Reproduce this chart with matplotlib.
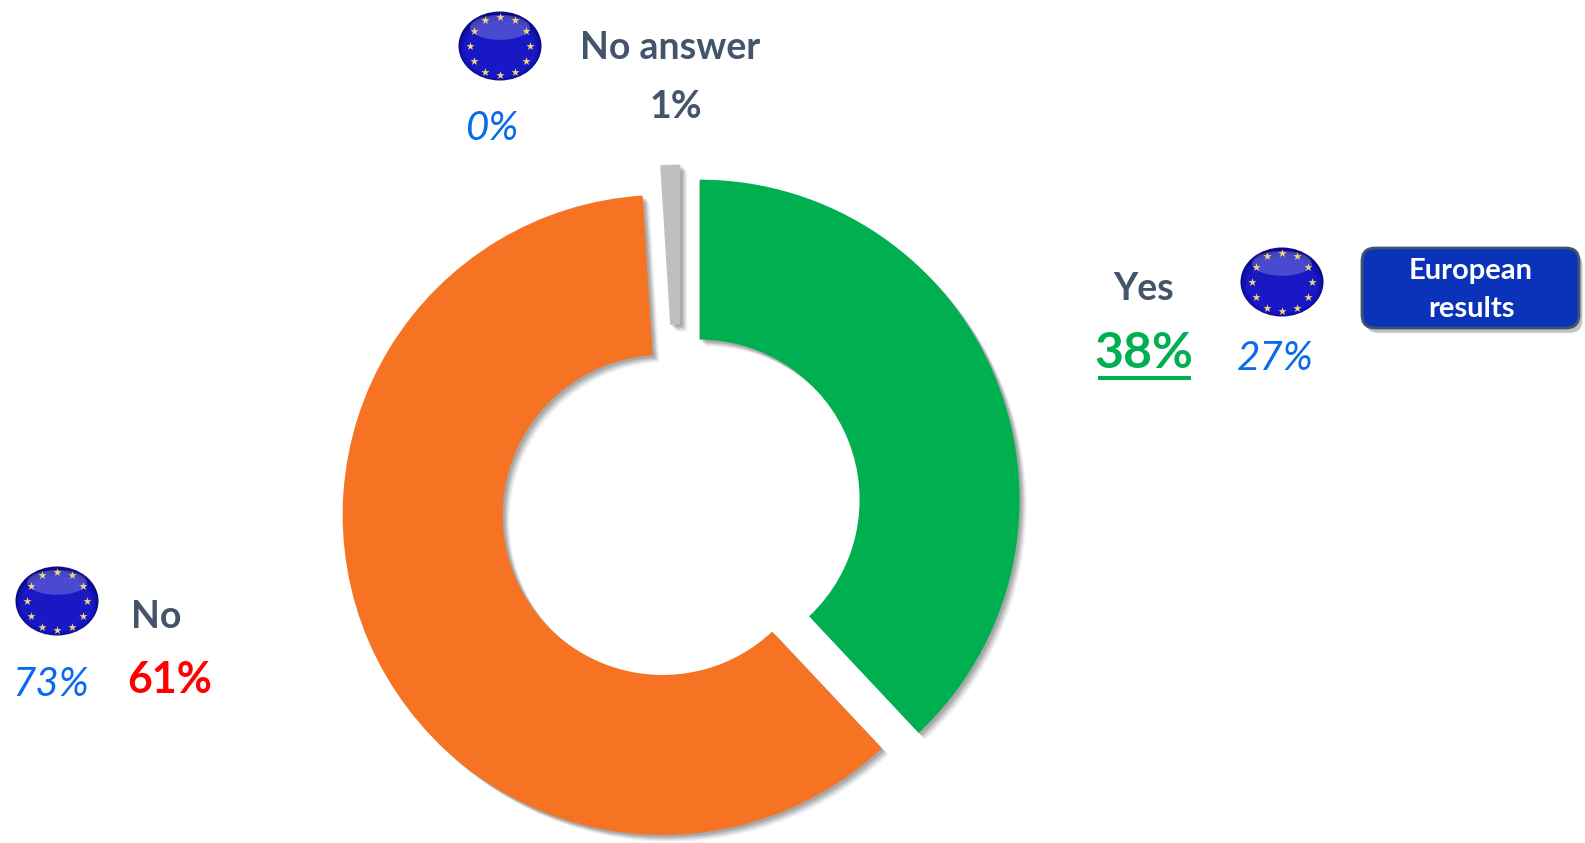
import numpy as np
import matplotlib
matplotlib.use("Agg")
import matplotlib.pyplot as plt
from matplotlib.patches import Ellipse, FancyBboxPatch
import matplotlib.patheffects as pe

W, H = 1585, 843
categories = ["Yes", "No", "No answer"]
values = [38, 61, 1]
eu_values = ["27%", "73%", "0%"]
value_labels = ["38%", "61%", "1%"]
colors = ["#00B050", "#F57322", "#BFBFBF"]
explode = [0.0625, 0.0625, 0.07]

FONT = "Lato"
GREY = "#44546A"
BLUE = "#0A6AEA"

fig = plt.figure(figsize=(W / 100, H / 100), dpi=100, facecolor="white")

# Donut axes: one data unit = 320 px
cx, cy, R = 681.0, 507.0, 320.0
ax = fig.add_axes([0, 0, 1, 1])
wedges, _ = ax.pie(values, colors=colors, explode=explode, startangle=90,
                   counterclock=False, radius=1.0,
                   wedgeprops=dict(width=0.5, linewidth=0))
ax.set_xlim(-cx / R, (W - cx) / R)
ax.set_ylim(-(H - cy) / R, cy / R)
ax.set_aspect("auto")
ax.axis("off")

shadow = []
for off, alpha in [(7, 0.05), (6, 0.07), (5, 0.09), (4, 0.10), (3, 0.12), (2, 0.12)]:
    shadow.append(pe.SimplePatchShadow(offset=(off * 0.72, -off * 0.72),
                                       shadow_rgbFace="#404040", alpha=alpha))
for w in wedges:
    w.set_path_effects(shadow + [pe.Normal()])

# Overlay axes in pixel coordinates
ov = fig.add_axes([0, 0, 1, 1], facecolor="none")
ov.set_xlim(0, W)
ov.set_ylim(H, 0)
ov.axis("off")


def flag(x, y, w=83, h=69):
    ov.add_patch(Ellipse((x, y), w, h, fc="#0A0A8C", ec="none", zorder=3))
    for k, (col, a) in enumerate([("#1212B0", 1.0), ("#1818C4", 1.0)]):
        ov.add_patch(Ellipse((x, y + 2 + k), w * (0.96 - k * 0.08), h * (0.92 - k * 0.1),
                             fc=col, ec="none", alpha=a, zorder=3))
    ov.add_patch(Ellipse((x, y - h * 0.27), w * 0.72, h * 0.36, fc="#FFFFFF", ec="none",
                         alpha=0.22, zorder=3.2))
    ang = np.deg2rad(np.arange(0, 360, 30))
    ov.scatter(x + 0.62 * w / 2 * 1.22 * np.cos(ang) * 0.95,
               y + 0.62 * h / 2 * 1.45 * np.sin(ang) * 0.95 - 0,
               marker="*", s=38, c="#F2D77A", linewidths=0, zorder=4)


flag(500, 46)
flag(1282, 282)
flag(57, 601)


def label(x, y, s, color=GREY, size=27, weight="bold", style="normal"):
    ov.text(x, y, s, color=color, fontsize=size, fontweight=weight, fontstyle=style,
            family=FONT, ha="center", va="center", zorder=6)


label(670, 48, categories[2])
label(676, 107, value_labels[2])
label(493, 129, eu_values[2], color=BLUE, weight="normal", style="italic", size=29)

label(1144, 289, categories[0])
label(1144, 354, value_labels[0], color=colors[0], size=36)
ov.plot([1098, 1191], [378, 378], color=colors[0], lw=2.9, solid_capstyle="butt", zorder=6)
label(1275, 358, eu_values[0], color=BLUE, weight="normal", style="italic", size=29)

label(156, 617, categories[1])
label(170, 680, value_labels[1], color="#FF0000", size=31)
label(51, 685, eu_values[1], color=BLUE, weight="normal", style="italic", size=29)

# Button
btn_shadow = [pe.SimplePatchShadow(offset=(2.5, -3.5), shadow_rgbFace="#555555", alpha=0.35),
              pe.Normal()]
ov.add_patch(FancyBboxPatch((1372, 258), 197, 60,
                            boxstyle="round,pad=0,rounding_size=0", fc="none", ec="none"))
btn = FancyBboxPatch((1373, 259), 195, 58, boxstyle="round,pad=11,rounding_size=13",
                     fc="#0B33B9", ec="#44546A", lw=2, zorder=5)
btn.set_path_effects(btn_shadow)
ov.add_patch(btn)
label(1471, 271, "European", color="white", size=21)
label(1471, 309, "results", color="white", size=21)

fig.savefig("out.png", dpi=100, facecolor="white")
